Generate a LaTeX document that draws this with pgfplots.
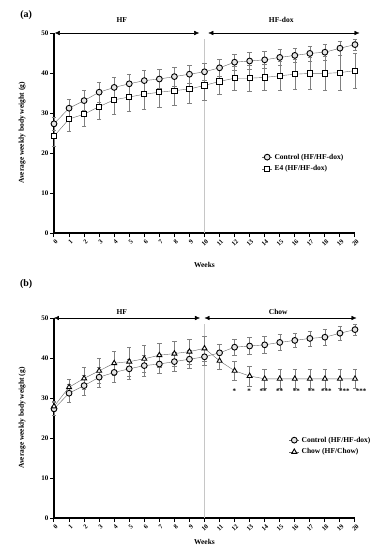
\documentclass[border=0pt]{standalone}
\usepackage{fontspec}
\setmainfont{Liberation Serif}
\usepackage{pgfplots}
\usepackage{pgfplotstable}
\pgfplotsset{compat=1.18}
\usetikzlibrary{arrows.meta}

\pgfplotstableread{
x ctl ctle e4 e4e chow chowe
0 27.3 1.7 24.2 2.5 27.9 1.3
1 31.2 2.3 28.5 3.1 32.7 2.1
2 33.1 2.5 29.7 3.1 34.9 2.8
3 35.2 2.4 31.6 3.2 36.8 3.1
4 36.4 2.5 33.3 3.5 38.7 3.1
5 37.3 2.5 34.0 3.6 39.1 3.6
6 38.1 2.6 34.7 3.7 39.8 3.4
7 38.5 2.4 35.2 3.7 40.7 3.1
8 39.1 2.4 35.6 3.7 41.1 3.1
9 39.7 2.2 36.0 3.6 41.6 3.1
10 40.3 2.2 36.9 3.6 42.4 3.1
11 41.3 2.2 37.9 3.3 39.3 2.2
12 42.7 2.1 38.7 3.0 36.8 2.3
13 43.0 2.1 38.7 3.2 35.5 2.5
14 43.3 2.1 38.9 3.3 34.8 2.4
15 43.9 2.0 39.3 3.6 34.8 2.4
16 44.4 1.8 39.7 3.8 34.8 2.4
17 44.9 1.9 39.9 4.0 34.8 2.4
18 45.2 1.9 39.9 4.2 34.8 2.4
19 46.2 1.7 40.1 4.3 34.8 2.4
20 47.1 1.4 40.6 4.4 34.8 2.4
}\data

\pgfplotsset{
  panel/.style={
    scale only axis, width=301pt, height=200pt,
    xmin=0, xmax=20, ymin=0, ymax=50,
    axis lines*=left,
    axis line style={line width=1.2pt, -},
    tick style={black, line width=1pt},
    major tick length=4pt, tick align=outside,
    xtick={0,...,20}, ytick={0,10,...,50},
    /pgf/number format/assume math mode=true,
    ticklabel style={font=\fontsize{7}{8}\selectfont\bfseries},
    xticklabel style={font=\fontsize{6.5}{7}\selectfont\bfseries, rotate=45, anchor=north east, inner sep=0.5pt, yshift=-1.5pt},
    yticklabel style={inner sep=1.5pt},
    label style={font=\fontsize{7.5}{9}\selectfont\bfseries},
    xlabel={Weeks},
    ylabel={Average weekly body weight (g)},
    ylabel style={at={(axis description cs:-0.106,0.5)}, anchor=center},
    clip=false,
    legend cell align=left,
    legend style={draw=none, fill=none, font=\fontsize{7.5}{9}\selectfont\bfseries, row sep=1pt},
    legend image code/.code={\draw[##1, mark repeat=2, mark phase=2] plot coordinates {(0cm,0cm) (0.18cm,0cm) (0.36cm,0cm)};},
    error bars/error bar style={gray, thin},
    error bars/error mark options={rotate=90, gray, mark size=2.2pt, thin},
  },
  ser/.style={color=gray!80!black, thin},
}

\begin{document}
\begin{tikzpicture}
\useasboundingbox (-54pt,-317pt) rectangle (336pt,233pt);
% panel (a)
\begin{axis}[panel, at={(0pt,0pt)}, anchor=south west,
  xlabel style={at={(axis description cs:0.5,-0.16)}, anchor=center},
  legend style={at={(axis description cs:0.68,0.35)}, anchor=west}]
\draw[gray!45, line width=0.8pt] (axis cs:10,0) -- (axis cs:10,48.5);
\addplot[ser, mark=*, mark size=2.9pt, mark options={draw=black, fill=gray!20, line width=0.9pt, solid}, error bars/.cd, y dir=both, y explicit]
  table[x=x, y=ctl, y error=ctle] {\data};
\addlegendentry{Control (HF/HF-dox)}
\addplot[ser, mark=square*, mark size=2.6pt, mark options={draw=black, fill=white, line width=0.9pt, solid}, error bars/.cd, y dir=both, y explicit]
  table[x=x, y=e4, y error=e4e] {\data};
\addlegendentry{E4 (HF/HF-dox)}
\draw[{Latex[length=5pt,width=4.5pt]}-{Latex[length=5pt,width=4.5pt]}, thin] (axis cs:0.05,50) -- (axis cs:9.65,50);
\draw[{Latex[length=5pt,width=4.5pt]}-{Latex[length=5pt,width=4.5pt]}, thin] (axis cs:10.25,50) -- (axis cs:20.3,50);
\node[font=\fontsize{7.5}{9}\selectfont\bfseries] at (axis cs:4.5,53.2) {HF};
\node[font=\fontsize{7.5}{9}\selectfont\bfseries] at (axis cs:15.1,53.2) {HF-dox};
\node[font=\fontsize{10}{12}\selectfont\bfseries] at (axis cs:-1.85,54.5) {(a)};
\end{axis}
% panel (b)
\begin{axis}[panel, at={(0pt,-285pt)}, anchor=south west,
  xlabel style={at={(axis description cs:0.5,-0.12)}, anchor=center},
  legend style={at={(axis description cs:0.77,0.36)}, anchor=west}]
\draw[gray!45, line width=0.8pt] (axis cs:10,0) -- (axis cs:10,48.5);
\addplot[ser, mark=*, mark size=2.9pt, mark options={draw=black, fill=gray!20, line width=0.9pt, solid}, error bars/.cd, y dir=both, y explicit]
  table[x=x, y=ctl, y error=ctle] {\data};
\addlegendentry{Control (HF/HF-dox)}
\addplot[ser, mark=triangle*, mark size=2.9pt, mark options={draw=black, fill=white, line width=0.9pt, solid}, error bars/.cd, y dir=both, y explicit]
  table[x=x, y=chow, y error=chowe] {\data};
\addlegendentry{Chow (HF/Chow)}
\addplot[draw=none, mark=none, nodes near coords, point meta=explicit symbolic,
  nodes near coords style={anchor=center, font=\fontsize{7}{8}\selectfont\bfseries}]
  table[x=x, y=y, meta=s] {
x y s
11.98 31.6 *
12.96 31.6 *
13.9 31.6 **
15.0 31.6 **
16.1 31.6 **
17.1 31.6 **
18.1 31.6 ***
19.3 31.6 ***
20.4 31.6 ***
};
\draw[{Latex[length=5pt,width=4.5pt]}-{Latex[length=5pt,width=4.5pt]}, thin] (axis cs:0.0,50) -- (axis cs:9.7,50);
\draw[{Latex[length=5pt,width=4.5pt]}-{Latex[length=5pt,width=4.5pt]}, thin] (axis cs:10.0,50) -- (axis cs:20.1,50);
\node[font=\fontsize{7.5}{9}\selectfont\bfseries] at (axis cs:4.5,51.6) {HF};
\node[font=\fontsize{7.5}{9}\selectfont\bfseries] at (axis cs:14.9,51.6) {Chow};
\node[font=\fontsize{10}{12}\selectfont\bfseries] at (axis cs:-1.85,58.5) {(b)};
\end{axis}
\end{tikzpicture}
\end{document}
